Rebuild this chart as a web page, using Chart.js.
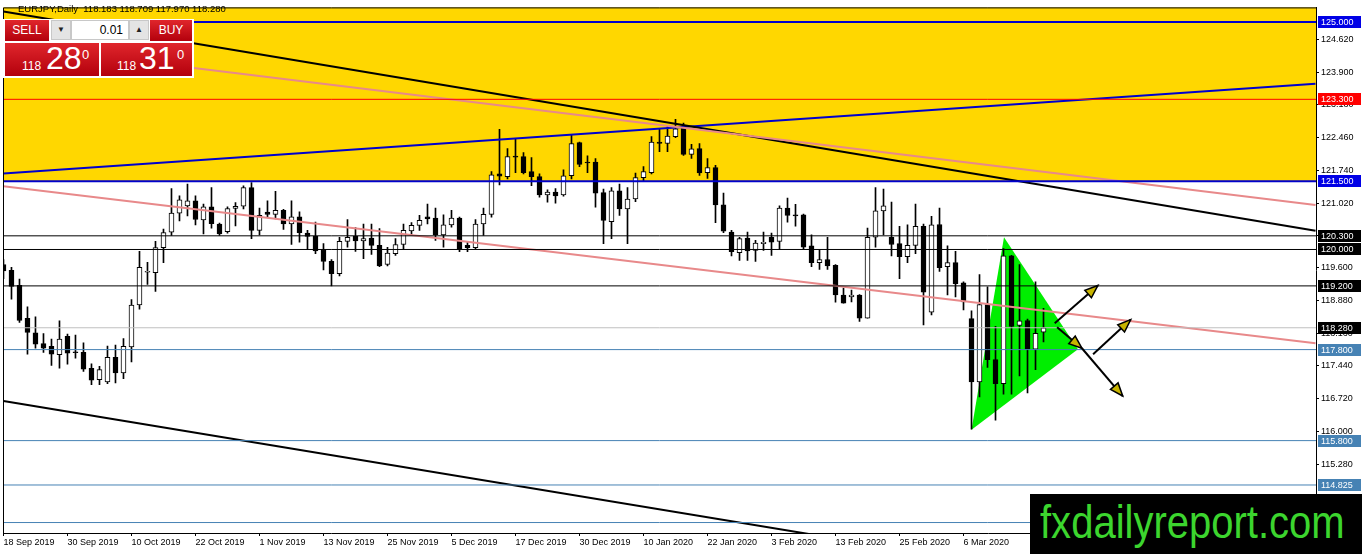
<!DOCTYPE html>
<html>
<head>
<meta charset="utf-8">
<script src="https://cdn.jsdelivr.net/npm/chart.js@4/dist/chart.umd.min.js"></script>
<style>
  html, body { margin: 0; padding: 0; background: #fff; }
  #wrap { position: relative; width: 1362px; height: 554px; overflow: hidden; font-family: "Liberation Sans", Arial, sans-serif; }
  canvas { display: block; }
  .hdr { position: absolute; left: 18px; top: 3px; font-size: 9.5px; color: #000; white-space: pre; }
  .box { position: absolute; box-sizing: border-box; }
  .panel { left: 3px; top: 19px; width: 191px; height: 59px; background: #fff; }
  .red { background: linear-gradient(#e0262c, #b3000c); color: #fff; }
  .btn { top: 20px; height: 21px; font-size: 12px; line-height: 21px; text-align: center; }
  .spin { top: 20px; height: 20px; width: 20px; background: #e4e4e4; border: 1px solid #c8c8c8; font-size: 8px; line-height: 18px; text-align: center; color: #222; }
  .lot { left: 71px; top: 20px; width: 58px; height: 20px; background: #fff; border: 1px solid #c8c8c8; font-size: 12px; line-height: 18px; text-align: right; padding-right: 5px; color: #000; }
  .px { top: 43px; height: 33px; }
  .px span { position: absolute; }
  .px .s { font-size: 12px; bottom: 3px; }
  .px .b { font-size: 32px; top: -3px; }
  .px .sup { font-size: 13px; top: 4px; }
  .mark { position: absolute; left: 1030px; top: 494px; width: 332px; height: 60px; background: #000; overflow: hidden; }
  .mark span { position: absolute; left: 10px; top: 0px; font-size: 46px; line-height: 56px; color: #3cd52e; transform: scaleX(0.87); transform-origin: left center; white-space: nowrap; }
</style>
</head>
<body>
<div id="wrap">
  <canvas id="chart" width="1362" height="554"></canvas>
  <div class="hdr">EURJPY,Daily  118.183 118.709 117.970 118.280</div>
  <div class="box panel"></div>
  <div class="box btn red" style="left:5px;width:44px;">SELL</div>
  <div class="box spin" style="left:51px;">&#9660;</div>
  <div class="box lot">0.01</div>
  <div class="box spin" style="left:129px;">&#9650;</div>
  <div class="box btn red" style="left:150px;width:42px;">BUY</div>
  <div class="box px red" style="left:5px;width:94px;"><span class="s" style="left:17px">118</span><span class="b" style="left:41px">28</span><span class="sup" style="left:77px">0</span></div>
  <div class="box px red" style="left:101px;width:91px;"><span class="s" style="left:16px">118</span><span class="b" style="left:38px">31</span><span class="sup" style="left:76px">0</span></div>
  <div class="mark"><span>fxdailyreport.com</span></div>
</div>
<script>
// EURJPY daily, 18 Sep 2019 .. 13 Mar 2020 (one entry per bar)
const opens = [
  119.67,119.54,119.21,118.49,118.17,117.93,117.87,117.69,118.09,117.74,
  117.74,117.39,117.14,117.09,117.63,117.29,117.86,118.78,119.50,119.49,
  120.04,120.38,120.80,120.96,121.07,120.65,120.94,120.56,120.39,120.90,
  120.95,121.36,120.42,120.82,120.77,120.86,120.56,120.72,120.36,120.29,
  120.00,119.74,119.47,120.18,120.29,120.19,120.25,120.09,119.67,119.91,
  120.11,120.41,120.53,120.72,120.69,120.32,120.54,120.69,120.09,120.04,
  120.56,120.77,121.66,121.60,122.04,122.04,121.71,121.60,121.20,121.26,
  121.20,121.62,122.35,121.92,121.92,121.25,120.61,121.29,120.89,121.11,
  121.58,121.69,122.36,122.33,122.48,122.71,122.09,122.22,121.69,121.80,
  120.98,120.38,119.93,120.25,119.98,120.13,120.27,120.18,120.91,120.75,
  120.76,120.08,119.71,119.78,119.65,119.00,118.96,119.00,118.49,120.27,
  120.85,120.27,120.13,119.84,120.09,120.51,118.62,120.55,119.62,119.71,
  119.27,118.48,117.09,118.79,117.58,117.05,119.86,118.33,118.44,117.81,
  118.183
];
const highs = [
  119.78,119.61,119.35,118.74,118.52,118.15,118.03,118.43,118.14,118.12,
  117.95,117.49,117.43,117.88,117.90,118.04,118.90,119.96,119.72,120.18,
  120.45,121.34,121.18,121.44,121.18,121.00,121.36,120.58,120.94,121.03,
  121.40,121.47,120.91,121.07,121.28,120.88,121.07,120.83,120.42,120.60,
  120.13,119.78,120.27,120.66,120.48,120.56,120.56,120.46,120.05,120.24,
  120.56,120.59,120.75,121.00,120.91,120.76,120.86,120.71,120.16,120.66,
  120.91,121.71,122.64,122.22,122.43,122.13,122.02,121.66,121.31,121.34,
  121.75,122.51,122.36,122.06,122.00,121.33,121.36,121.44,121.36,121.68,
  121.82,122.48,122.65,122.70,122.86,122.78,122.31,122.33,122.00,121.85,
  121.24,120.42,120.27,120.38,120.20,120.38,120.36,120.96,121.13,120.99,
  120.78,120.32,120.00,120.27,119.67,119.15,119.11,119.01,120.47,121.36,
  121.33,121.04,120.51,120.54,121.00,120.56,120.73,120.91,120.08,119.96,
  119.29,118.65,119.45,119.18,118.31,120.02,119.87,119.67,118.47,119.29,
  118.709
];
const lows = [
  119.36,118.91,118.40,117.70,117.83,117.74,117.45,117.39,117.48,117.61,
  117.32,117.03,117.03,117.05,117.07,117.16,117.53,118.69,119.23,119.08,
  119.71,120.31,120.63,120.74,120.54,120.34,120.47,120.31,120.36,120.52,
  120.89,120.24,120.32,120.71,120.67,120.44,120.11,120.16,120.00,119.91,
  119.55,119.20,119.42,120.05,119.96,119.80,119.89,119.62,119.64,119.87,
  120.00,120.31,120.42,120.56,120.20,120.05,120.49,119.95,119.95,120.02,
  120.31,120.71,121.42,121.55,121.69,121.66,121.40,121.15,121.04,121.02,
  121.17,121.55,121.82,121.69,120.93,120.13,120.24,120.75,120.13,121.05,
  121.49,121.66,122.15,122.15,122.46,122.07,122.00,121.63,121.56,120.59,
  120.37,119.86,119.76,119.76,119.74,119.98,119.87,120.00,120.60,120.51,
  120.02,119.62,119.56,119.56,118.84,118.82,118.85,118.42,118.49,120.05,
  120.32,119.86,119.36,119.71,119.91,118.34,118.56,119.52,119.00,118.96,
  118.67,116.05,116.76,117.41,116.25,116.82,116.82,117.22,116.85,117.36,
  117.970
];
const closes = [
  119.53,119.19,118.44,118.18,117.92,117.83,117.70,118.03,117.72,117.73,
  117.37,117.13,117.36,117.63,117.29,117.87,118.78,119.61,119.51,120.04,
  120.37,120.80,121.09,121.07,120.66,120.94,120.57,120.34,120.90,120.95,
  121.36,120.42,120.75,120.77,120.86,120.56,120.72,120.37,120.29,119.97,
  119.74,119.47,120.18,120.27,120.19,120.24,120.09,119.64,119.92,120.11,
  120.42,120.53,120.64,120.67,120.32,120.54,120.69,120.02,120.04,120.56,
  120.77,121.64,121.61,122.04,122.03,121.69,121.60,121.20,121.26,121.18,
  121.62,122.33,121.87,121.90,121.24,120.64,121.29,120.89,121.11,121.58,
  121.71,122.36,122.33,122.49,122.65,122.09,122.21,121.68,121.80,120.98,
  120.40,119.95,120.24,119.97,120.14,120.16,120.16,120.91,120.75,120.74,
  120.05,119.71,119.78,119.64,119.00,118.82,119.00,118.49,120.27,120.85,
  120.96,120.11,119.84,120.09,120.51,119.06,120.54,119.60,119.71,119.25,
  118.85,117.09,118.79,117.58,117.05,119.86,118.31,118.43,117.81,118.16,
  118.280
];

// date labels every 8 bars
const dateLabels = ['18 Sep 2019','30 Sep 2019','10 Oct 2019','22 Oct 2019','1 Nov 2019','13 Nov 2019',
  '25 Nov 2019','5 Dec 2019','17 Dec 2019','30 Dec 2019','10 Jan 2020','22 Jan 2020','3 Feb 2020',
  '13 Feb 2020','25 Feb 2020','6 Mar 2020'];
const labelStep = 8;
const priceTicks = [124.62,123.90,123.18,122.46,121.74,121.02,120.30,119.60,118.88,118.16,117.44,116.72,116.00,115.28,114.56];

const xMin = -0.06, xMax = 164.06;
const yMin = 113.77, yMax = 125.32;

// horizontal levels
const levelPrices = [125.000, 123.300, 121.500, 120.300, 120.000, 119.200, 118.280, 117.800, 115.800, 114.825, 114.000];
const levelKinds  = ['blue','red','blue','black','black','black','bid','steel','steel','steel','steel'];

// zone between the two blue levels
const zoneLow = 121.5;

// trendlines: [bar, price] pairs
const trendBlue   = [[0, 121.67], [164, 123.64]];
const trendBlackHi = [[0, 125.23], [164, 120.41]];
const trendBlackLo = [[0, 116.67], [164, 111.91]];
const trendPinkHi = [[0, 124.50], [164, 120.98]];
const trendPinkLo = [[0, 121.39], [164, 117.94]];

// green pennant triangle and arrows
const triangle = [[121.0, 116.04], [125.06, 120.27], [134.3, 117.81]];
const arrows = [
  [[131.4, 118.38], [136.8, 119.21]],
  [[131.7, 118.29], [134.8, 117.83]],
  [[134.8, 117.83], [139.9, 116.78]],
  [[136.2, 117.70], [140.9, 118.46]]
];

const kindStyle = {
  blue:  { line: '#0000cd', width: 2, tag: '#0000e6', text: '#fff' },
  red:   { line: '#ff0000', width: 1, tag: '#ff0000', text: '#fff' },
  black: { line: '#000000', width: 1, tag: '#000000', text: '#fff' },
  bid:   { line: '#c0c0c0', width: 1, tag: '#000000', text: '#fff' },
  steel: { line: '#4682b4', width: 1, tag: '#4682b4', text: '#fff' }
};

const idx = opens.map((_, i) => i);
const wickData = idx.map(i => ({ x: i, y: [lows[i], highs[i]] }));
const bodyData = idx.map(i => ({ x: i, y: [opens[i], closes[i]] }));
const bodyFill = idx.map(i => closes[i] >= opens[i] ? '#ffffff' : '#000000');

const seg = (pts) => pts.map(p => ({ x: p[0], y: p[1] }));
const lineDs = (pts, color, width) => ({
  type: 'line', data: seg(pts), borderColor: color, borderWidth: width,
  pointRadius: 0, fill: false, tension: 0, order: 0
});

const levelSets = levelPrices.map((v, i) => lineDs([[xMin, v], [xMax, v]], kindStyle[levelKinds[i]].line, kindStyle[levelKinds[i]].width));

const decor = {
  id: 'decor',
  beforeDatasetsDraw(chart) {
    const { ctx, chartArea: a, scales: { x, y } } = chart;
    ctx.save();
    // yellow zone
    const zt = y.getPixelForValue(yMax), zb = y.getPixelForValue(zoneLow);
    ctx.fillStyle = '#ffd700';
    ctx.fillRect(a.left, zt, a.right - a.left, zb - zt);
    // triangle
    ctx.beginPath();
    triangle.forEach((p, i) => {
      const px = x.getPixelForValue(p[0]), py = y.getPixelForValue(p[1]);
      if (i === 0) ctx.moveTo(px, py); else ctx.lineTo(px, py);
    });
    ctx.closePath();
    ctx.fillStyle = '#00ee00';
    ctx.fill();
    ctx.restore();
  },
  afterDatasetsDraw(chart) {
    const { ctx, chartArea: a, scales: { x, y } } = chart;
    ctx.save();
    ctx.beginPath();
    ctx.rect(a.left, a.top, a.right - a.left, a.bottom - a.top);
    ctx.clip();
    arrows.forEach(ar => {
      const x1 = x.getPixelForValue(ar[0][0]), y1 = y.getPixelForValue(ar[0][1]);
      const x2 = x.getPixelForValue(ar[1][0]), y2 = y.getPixelForValue(ar[1][1]);
      ctx.strokeStyle = '#000';
      ctx.lineWidth = 2;
      ctx.beginPath(); ctx.moveTo(x1, y1); ctx.lineTo(x2, y2); ctx.stroke();
      const ang = Math.atan2(y2 - y1, x2 - x1);
      const c = Math.cos(ang), s = Math.sin(ang);
      const bx = x2 - 13 * c, by = y2 - 13 * s;
      ctx.beginPath();
      ctx.moveTo(x2, y2);
      ctx.lineTo(bx - 5 * s, by + 5 * c);
      ctx.lineTo(bx + 5 * s, by - 5 * c);
      ctx.closePath();
      ctx.fillStyle = '#c8b400';
      ctx.fill();
      ctx.lineWidth = 1.5;
      ctx.stroke();
    });
    ctx.restore();
    // left and top frame
    ctx.save();
    ctx.strokeStyle = '#000';
    ctx.lineWidth = 1;
    ctx.beginPath();
    ctx.moveTo(a.left + 0.5, a.bottom);
    ctx.lineTo(a.left + 0.5, a.top + 0.5);
    ctx.lineTo(a.right, a.top + 0.5);
    ctx.stroke();
    ctx.restore();
  },
  afterDraw(chart) {
    const { ctx, chartArea: a, scales: { y } } = chart;
    ctx.save();
    ctx.font = '9px "Liberation Sans", Arial, sans-serif';
    ctx.textBaseline = 'middle';
    levelPrices.forEach((v, i) => {
      const st = kindStyle[levelKinds[i]];
      const py = Math.round(y.getPixelForValue(v));
      ctx.fillStyle = st.tag;
      ctx.fillRect(a.right + 2, py - 6, 43, 12);
      ctx.fillStyle = st.text;
      ctx.fillText(v.toFixed(3), a.right + 5, py + 0.5);
    });
    ctx.restore();
  }
};

new Chart(document.getElementById('chart'), {
  data: {
    datasets: [
      ...levelSets,
      lineDs(trendPinkLo, '#e8898a', 2),
      lineDs(trendPinkHi, '#e8898a', 2),
      lineDs(trendBlackLo, '#000000', 2),
      lineDs(trendBlackHi, '#000000', 2),
      lineDs(trendBlue, '#0000cd', 2),
      {
        type: 'bar', data: bodyData, backgroundColor: bodyFill, borderColor: '#000',
        borderWidth: 1, borderSkipped: false, barThickness: 5, minBarLength: 1,
        grouped: false, order: 2
      },
      {
        type: 'bar', data: wickData, backgroundColor: '#000', borderWidth: 0,
        barThickness: 1, grouped: false, order: 3
      }
    ]
  },
  options: {
    responsive: false,
    animation: false,
    devicePixelRatio: 1,
    layout: { padding: { left: 3, top: 4, right: 0, bottom: 0 } },
    plugins: { legend: { display: false }, tooltip: { enabled: false } },
    scales: {
      x: {
        type: 'linear', min: xMin, max: xMax, offset: false,
        afterBuildTicks: s => { s.ticks = dateLabels.map((_, i) => ({ value: i * labelStep })); },
        afterFit: s => { s.height = 21; },
        ticks: {
          autoSkip: false, maxRotation: 0, minRotation: 0, align: 'start', padding: 1,
          color: '#000', font: { family: '"Liberation Sans", Arial, sans-serif', size: 9 },
          callback: (v, i) => dateLabels[i]
        },
        grid: { offset: false, drawOnChartArea: false, drawTicks: true, tickLength: 3, color: '#000' },
        border: { display: true, color: '#000', width: 1 }
      },
      y: {
        type: 'linear', position: 'right', min: yMin, max: yMax,
        afterBuildTicks: s => { s.ticks = priceTicks.map(v => ({ value: v })); },
        afterFit: s => { s.width = 46; },
        ticks: {
          padding: 2, color: '#000', font: { family: '"Liberation Sans", Arial, sans-serif', size: 9 },
          callback: v => Number(v).toFixed(3)
        },
        grid: { drawOnChartArea: false, drawTicks: true, tickLength: 3, color: '#000' },
        border: { display: true, color: '#000', width: 1 }
      }
    }
  },
  plugins: [decor]
});
</script>
</body>
</html>
